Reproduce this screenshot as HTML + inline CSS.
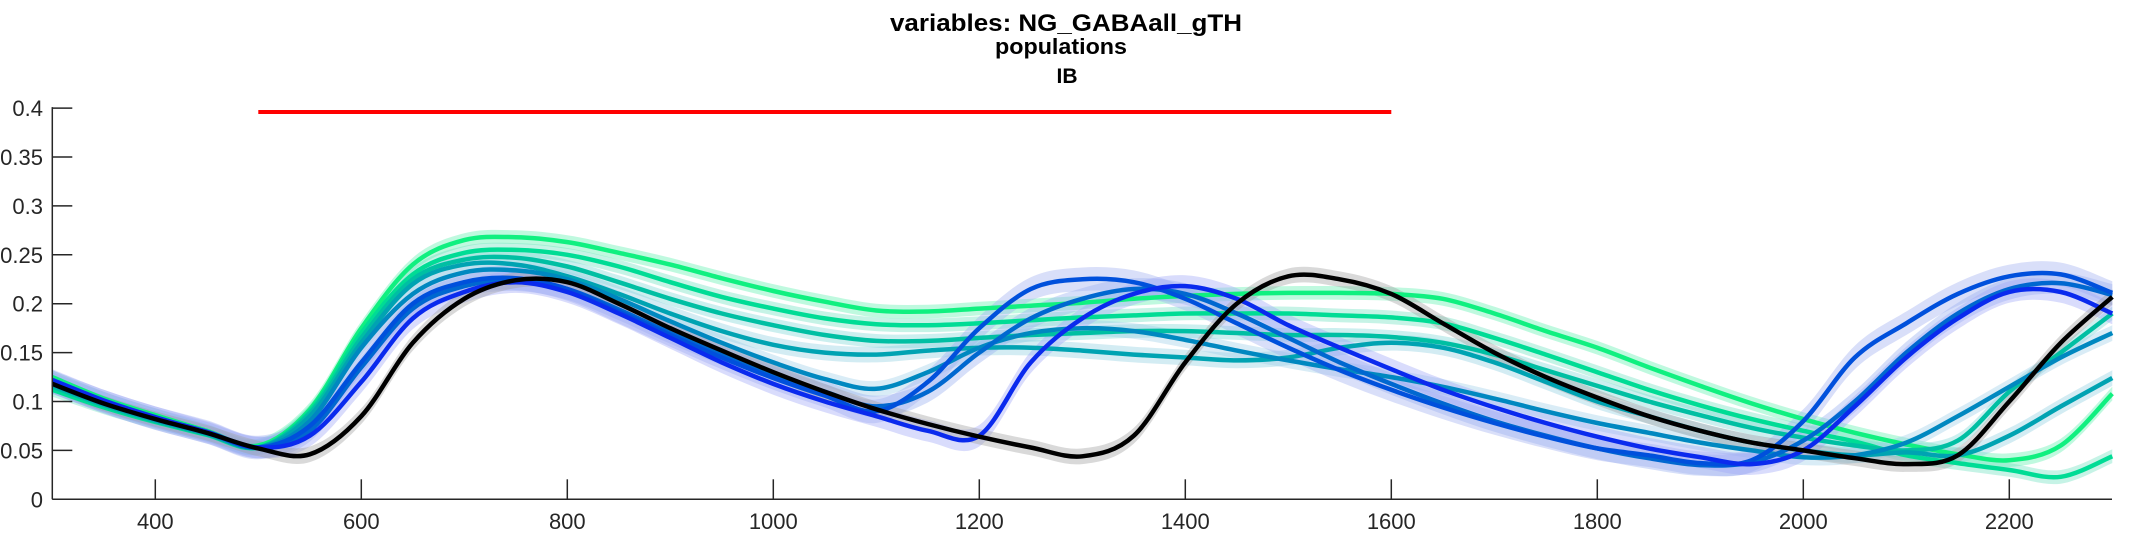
<!DOCTYPE html>
<html><head><meta charset="utf-8"><style>
html,body{margin:0;padding:0;background:#fff;}
svg{display:block;font-family:"Liberation Sans",Arial,sans-serif;}
</style></head><body>
<svg id="chart" width="2133" height="533" viewBox="0 0 2133 533" xmlns="http://www.w3.org/2000/svg">
<g>
<text x="1066" y="31" text-anchor="middle" font-size="24" font-weight="bold" textLength="352" lengthAdjust="spacingAndGlyphs">variables: NG_GABAall_gTH</text>
<text x="1061" y="54" text-anchor="middle" font-size="22" font-weight="bold" textLength="132" lengthAdjust="spacingAndGlyphs">populations</text>
<text x="1067" y="83" text-anchor="middle" font-size="21" font-weight="bold">IB</text>
</g>
<g id="bands"></g>
<g id="lines"></g>
<g id="axes"></g>
</svg>
<script>
const xs = [300,350,400,450,500,550,600,650,700,750,800,850,900,950,1000,1050,1100,1150,1200,1250,1300,1350,1400,1450,1500,1550,1600,1650,1700,1750,1800,1850,1900,1950,2000,2050,2100,2150,2200,2250,2300];
const seriesI = [0.125,0.103,0.086,0.07,0.055,0.092,0.175,0.24,0.265,0.268,0.263,0.252,0.24,0.226,0.213,0.202,0.193,0.192,0.195,0.198,0.201,0.205,0.208,0.21,0.211,0.211,0.21,0.205,0.19,0.172,0.155,0.135,0.116,0.098,0.082,0.068,0.056,0.046,0.04,0.055,0.108];
const seriesH = [0.112,0.094,0.079,0.066,0.053,0.09,0.17,0.23,0.252,0.255,0.25,0.238,0.222,0.207,0.195,0.185,0.179,0.178,0.18,0.183,0.186,0.188,0.19,0.19,0.19,0.188,0.186,0.18,0.165,0.148,0.13,0.112,0.096,0.082,0.07,0.059,0.045,0.037,0.03,0.023,0.044];
const seriesG = [0.115,0.096,0.08,0.067,0.053,0.088,0.165,0.225,0.245,0.247,0.238,0.222,0.205,0.19,0.178,0.168,0.162,0.162,0.165,0.168,0.17,0.172,0.172,0.17,0.168,0.168,0.166,0.16,0.148,0.132,0.116,0.1,0.086,0.073,0.063,0.055,0.05,0.06,0.11,0.15,0.19];
const seriesF = [0.117,0.097,0.081,0.067,0.053,0.085,0.16,0.22,0.24,0.24,0.228,0.21,0.19,0.172,0.158,0.15,0.148,0.152,0.155,0.155,0.152,0.148,0.145,0.142,0.145,0.155,0.16,0.155,0.14,0.12,0.1,0.085,0.07,0.058,0.05,0.045,0.048,0.045,0.065,0.095,0.124];
const seriesE = [0.118,0.098,0.082,0.068,0.053,0.08,0.155,0.21,0.232,0.234,0.225,0.205,0.182,0.16,0.14,0.123,0.113,0.13,0.155,0.17,0.175,0.172,0.163,0.152,0.142,0.133,0.125,0.115,0.103,0.09,0.078,0.068,0.058,0.05,0.043,0.045,0.058,0.085,0.115,0.145,0.17];
const seriesD = [0.119,0.099,0.082,0.068,0.053,0.07,0.135,0.195,0.218,0.224,0.215,0.194,0.17,0.148,0.128,0.11,0.095,0.11,0.15,0.185,0.205,0.215,0.21,0.19,0.165,0.14,0.118,0.098,0.08,0.065,0.052,0.042,0.035,0.038,0.06,0.1,0.15,0.19,0.215,0.221,0.209];
const seriesC = [0.12,0.1,0.083,0.069,0.053,0.075,0.14,0.2,0.222,0.226,0.215,0.192,0.168,0.145,0.124,0.106,0.09,0.12,0.175,0.215,0.225,0.222,0.205,0.18,0.155,0.132,0.112,0.094,0.078,0.064,0.052,0.045,0.037,0.04,0.08,0.145,0.18,0.21,0.228,0.23,0.211];
const seriesB = [0.122,0.101,0.084,0.069,0.053,0.065,0.12,0.185,0.212,0.222,0.212,0.19,0.165,0.14,0.118,0.1,0.085,0.07,0.065,0.14,0.185,0.21,0.218,0.205,0.178,0.155,0.133,0.112,0.094,0.078,0.064,0.052,0.043,0.036,0.05,0.095,0.145,0.185,0.212,0.212,0.19];
const seriesBlack = [0.118,0.098,0.082,0.068,0.052,0.046,0.085,0.16,0.205,0.224,0.222,0.2,0.175,0.152,0.13,0.11,0.092,0.077,0.064,0.053,0.044,0.065,0.14,0.2,0.228,0.225,0.21,0.18,0.15,0.125,0.104,0.085,0.07,0.058,0.05,0.042,0.036,0.045,0.1,0.16,0.207];
const seriesNames = ["series-i","series-h","series-g","series-f","series-e","series-d","series-c","series-b","series-black"];
const stimulusRange = [500,1600];
const stimulusLevel = 0.396;
const xTicks = [400,600,800,1000,1200,1400,1600,1800,2000,2200];
const yTicks = [0,0.05,0.1,0.15,0.2,0.25,0.3,0.35,0.4];
const yTickLabels = ["0","0.05","0.1","0.15","0.2","0.25","0.3","0.35","0.4"];

const NS="http://www.w3.org/2000/svg";
const X0=52.3, Y0=499.3;
function xScale(v){return X0+(v-300)*1.03;}
function yScale(v){return Y0-v*978;}
const allSeries=[seriesI,seriesH,seriesG,seriesF,seriesE,seriesD,seriesC,seriesB,seriesBlack];
const colors=["#10f080","#00dc95","#00bfa3","#00a3b2","#0088c0","#0068d0","#0050dc","#0a2aee","#000000"];
const bandColors=["#60f0b0","#70e0c0","#80d8d8","#90d0e0","#a0d0e8","#98b0f0","#a0b0f0","#a0a8f8","#a0a0a0"];
const halfW=[0.007,0.007,0.007,0.008,0.008,0.011,0.012,0.011,0.008];
function pathFor(pts){
  let d="M"+pts[0][0].toFixed(1)+","+pts[0][1].toFixed(1);
  for(let i=0;i<pts.length-1;i++){
    const p0=pts[Math.max(0,i-1)],p1=pts[i],p2=pts[i+1],p3=pts[Math.min(pts.length-1,i+2)];
    const c1=[p1[0]+(p2[0]-p0[0])/6,p1[1]+(p2[1]-p0[1])/6];
    const c2=[p2[0]-(p3[0]-p1[0])/6,p2[1]-(p3[1]-p1[1])/6];
    d+="C"+c1[0].toFixed(1)+","+c1[1].toFixed(1)+" "+c2[0].toFixed(1)+","+c2[1].toFixed(1)+" "+p2[0].toFixed(1)+","+p2[1].toFixed(1);
  }
  return d;
}
const bandsG=document.getElementById('bands'), linesG=document.getElementById('lines'), axesG=document.getElementById('axes');
allSeries.forEach((s,k)=>{
  const up=s.map((v,i)=>[xScale(xs[i]),yScale(v+halfW[k])]);
  const dn=s.map((v,i)=>[xScale(xs[i]),yScale(Math.max(0,v-halfW[k]))]).reverse();
  const band=document.createElementNS(NS,'path');
  band.setAttribute('d',pathFor(up)+pathFor(dn).replace('M','L')+'Z');
  band.setAttribute('fill',bandColors[k]);band.setAttribute('fill-opacity','0.4');
  
  
  bandsG.appendChild(band);
});
allSeries.forEach((s,k)=>{
  const pts=s.map((v,i)=>[xScale(xs[i]),yScale(v)]);
  const p=document.createElementNS(NS,'path');
  p.setAttribute('d',pathFor(pts));
  p.setAttribute('fill','none');p.setAttribute('stroke',colors[k]);
  p.setAttribute('stroke-width','4.5');p.setAttribute('stroke-linejoin','round');
  
  
  linesG.appendChild(p);
});
const red=document.createElementNS(NS,'line');
red.setAttribute('x1',xScale(stimulusRange[0]));red.setAttribute('x2',xScale(stimulusRange[1]));
red.setAttribute('y1',yScale(stimulusLevel));red.setAttribute('y2',yScale(stimulusLevel));
red.setAttribute('stroke','#ff0000');red.setAttribute('stroke-width','4');


linesG.appendChild(red);
function ln(x1,y1,x2,y2,name){
  const l=document.createElementNS(NS,'line');
  l.setAttribute('x1',x1);l.setAttribute('y1',y1);l.setAttribute('x2',x2);l.setAttribute('y2',y2);
  l.setAttribute('stroke','#262626');l.setAttribute('stroke-width','1.5');
  
  
  axesG.appendChild(l);
}
ln(X0,yScale(0.4)-1,X0,Y0,'y-axis-line');
ln(X0,Y0,2112,Y0,'x-axis-line');
yTicks.forEach((v,i)=>{
  ln(X0,yScale(v),X0+20,yScale(v),'y-tick');
  const t=document.createElementNS(NS,'text');
  t.setAttribute('x',43);t.setAttribute('y',yScale(v)+8);t.setAttribute('text-anchor','end');
  t.setAttribute('font-size','22');t.setAttribute('fill','#262626');
  t.textContent=yTickLabels[i];
  
  
  axesG.appendChild(t);
});
xTicks.forEach(v=>{
  ln(xScale(v),Y0,xScale(v),Y0-20,'x-tick');
  const t=document.createElementNS(NS,'text');
  t.setAttribute('x',xScale(v));t.setAttribute('y',529);t.setAttribute('text-anchor','middle');
  t.setAttribute('font-size','22');t.setAttribute('fill','#262626');
  t.textContent=String(v);
  
  
  axesG.appendChild(t);
});
</script>
</body></html>
